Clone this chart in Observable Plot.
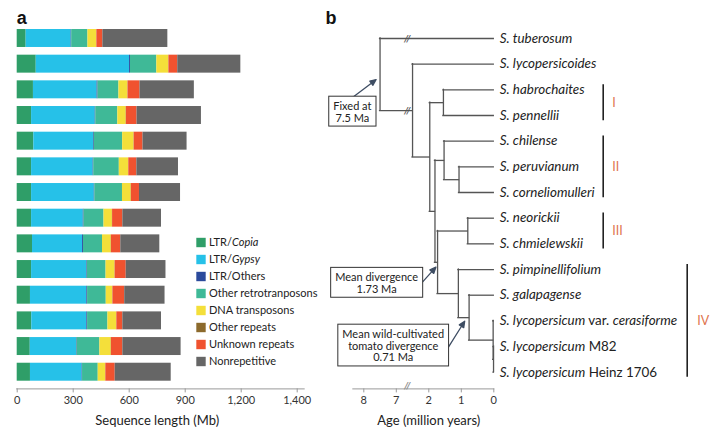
<!DOCTYPE html>
<html><head><meta charset="utf-8">
<script src="https://cdn.jsdelivr.net/npm/d3@7"></script>
<script src="https://cdn.jsdelivr.net/npm/@observablehq/plot@0.6"></script>
<style>
body{margin:0;background:#fff;font-family:Lato,sans-serif}
#wrap{position:relative;width:720px;height:435px;overflow:hidden;background:#fff}
</style></head><body><div id="wrap"></div>
<script>
// ---------- DATA ----------
const tipMarkup = ["*S. tuberosum*","*S. lycopersicoides*","*S. habrochaites*","*S. pennellii*","*S. chilense*","*S. peruvianum*","*S. corneliomulleri*","*S. neorickii*","*S. chmielewskii*","*S. pimpinellifolium*","*S. galapagense*","*S. lycopersicum* var. *cerasiforme*","*S. lycopersicum* M82","*S. lycopersicum* Heinz 1706"];
const legendMarkup = ["LTR/*Copia*","LTR/*Gypsy*","LTR/Others","Other retrotranposons","DNA transposons","Other repeats","Unknown repeats","Nonrepetitive"];
const colors = ["#2f9e68","#26c1e8","#2b4a9c","#3fb997","#f4df3a","#8c6a2c","#f0522f","#666666"];

// sequence length (Mb) per species, in row order
const copia      = [48,102,87,77,89,77,77,77,82,77,71,78,70,71];
const gypsy      = [241,500,341,341,320,330,336,277,268,296,302,295,248,277];
const ltrOthers  = [3,5,5,3,4,3,3,4,5,3,4,4,3,2];
const otherRetro = [87,141,112,118,152,137,148,107,102,100,100,109,122,84];
const dnaTE      = [47,64,48,45,61,50,47,45,47,48,35,47,61,40];
const otherRep   = [1,1,1,1,1,1,1,1,1,1,1,1,1,1];
const unknownRep = [32,47,64,57,47,43,43,55,50,59,63,32,61,50];
const nonRep     = [348,338,291,345,236,223,220,207,209,213,216,207,312,300];

const seqTickValues = [0,300,600,900,1200,1500];
const seqTickLabels = ["0","300","600","900","1,200","1,400"];

// tree: internal nodes, their children and ages (Ma)
const nodeNames = ["root","ingroup","X","I","Z","II","peco","W","III","IV","V","lyc","mh"];
const nodeKids  = [["t0","ingroup"],["t1","X"],["I","Z"],["t2","t3"],["II","W"],["t4","peco"],["t5","t6"],["III","IV"],["t7","t8"],["t9","V"],["t10","lyc"],["t11","mh"],["t12","t13"]];
const nodeAges  = [7.5,4.5,1.97,1.55,1.81,1.53,1.07,1.73,0.80,1.09,0.76,0.02,0.008];

const ageTicks = [0,1,2,7,8];

const cladeNames = ["I","II","III","IV"];
const cladeFirst = [2,4,7,9];
const cladeLast  = [3,6,8,13];

const annotNode = ["root","W","V"];
const annotText = ["Fixed at\n7.5 Ma","Mean divergence\n1.73 Ma","Mean wild-cultivated\ntomato divergence\n0.71 Ma"];

// ---------- DERIVED ----------
const strip = s => s.replace(/\*/g, "");
const species = tipMarkup.map(strip);
const categories = legendMarkup.map(strip);
const series = [copia,gypsy,ltrOthers,otherRetro,dnaTE,otherRep,unknownRep,nonRep];
const barData = species.flatMap((s,i) => categories.map((c,k) => ({i, species:s, category:c, value: series[k][i]})));

// broken age axis: 2..7 Ma compressed
const brk = a => a <= 2 ? a : (a >= 7 ? a - 4 : 2 + (a - 2) / 5);
const isTip = id => /^t\d+$/.test(id);
const idx = id => nodeNames.indexOf(id);
const yOf = id => isTip(id) ? +id.slice(1) : (yOf(nodeKids[idx(id)][0]) + yOf(nodeKids[idx(id)][1])) / 2;
const ageOf = id => isTip(id) ? 0 : nodeAges[idx(id)];

const verticals = nodeNames.map((n,k) => ({node:n, x: brk(nodeAges[k]), y1: yOf(nodeKids[k][0]), y2: yOf(nodeKids[k][1])}));
const horizontals = nodeNames.flatMap((n,k) => nodeKids[k].map(c => ({from:n, to:c, x1: brk(nodeAges[k]), x2: brk(ageOf(c)), y: yOf(c)})));
const tips = tipMarkup.map((m,i) => ({i, label: strip(m)}));
const clades = cladeNames.map((n,k) => ({name:n, first:cladeFirst[k], last:cladeLast[k]}));
const annots = annotNode.map((n,k) => ({node:n, text:annotText[k], x: brk(ageOf(n)), y: yOf(n)}));

// ---------- HELPERS ----------
const SVGNS = "http://www.w3.org/2000/svg";
function applyItalics(svg, markups) {
  const map = new Map(markups.map(m => [strip(m), m]));
  svg.querySelectorAll("text").forEach(t => {
    if (t.querySelector("tspan")) return;
    const m = map.get(t.textContent);
    if (!m || !m.includes("*")) return;
    t.textContent = "";
    m.split("*").forEach((seg,j) => {
      if (!seg) return;
      const ts = document.createElementNS(SVGNS, "tspan");
      if (j % 2 === 1) ts.setAttribute("font-style", "italic");
      ts.textContent = seg;
      t.appendChild(ts);
    });
  });
}
const yScale = () => ({domain: [-0.65, 13.65], reverse: true, axis: null});
const baseStyle = {fontFamily: "Lato, sans-serif", fontSize: "11px", color: "#222", background: "transparent", overflow: "visible"};

// ---------- PANEL A ----------
const barPlot = Plot.plot({
  width: 318, height: 435,
  marginLeft: 16.7, marginRight: 21.3, marginTop: 21.3, marginBottom: 46.6,
  x: {domain: [0, 1500]},
  y: yScale(),
  color: {domain: categories, range: colors},
  style: baseStyle,
  marks: [
    Plot.rectX(barData, {x: "value", y1: d => d.i - 0.35, y2: d => d.i + 0.35, fill: "category"}),
    Plot.frame({anchor: "bottom", insetLeft: -0.5, insetRight: -7, stroke: "#9a9a9a"}),
    Plot.axisX({ticks: seqTickValues, tickFormat: d => seqTickLabels[seqTickValues.indexOf(d)], tickSize: 4, tickPadding: 3, stroke: "#9a9a9a", fill: "#333", fontSize: 11, label: null}),
    Plot.text(["Sequence length (Mb)"], {text: d => d, frameAnchor: "bottom", dy: 31.5, lineAnchor: "middle", fontSize: 13, fill: "#222"}),
    Plot.text(["a"], {text: d => d, frameAnchor: "top-left", dx: -0.5, dy: -3.5, lineAnchor: "middle", textAnchor: "start", fontWeight: "bold", fontSize: 18, fontFamily: "Liberation Sans, Arial, sans-serif", fill: "#111"})
  ]
});

// ---------- LEGEND ----------
const legendPlot = Plot.plot({
  width: 140, height: 150,
  marginLeft: 10.5, marginRight: 0, marginTop: 12, marginBottom: 14.5,
  x: {domain: [0, 1], axis: null},
  y: {type: "point", domain: categories, padding: 0, axis: null},
  color: {domain: categories, range: colors},
  style: baseStyle,
  marks: [
    Plot.dot(categories, {y: d => d, fill: d => d, symbol: "square", r: 5.3, frameAnchor: "left"}),
    Plot.text(categories, {y: d => d, text: d => d, frameAnchor: "left", dx: 8, textAnchor: "start", fontSize: 11, fill: "#222"})
  ]
});

// ---------- PANEL B ----------
const lineColor = "#555";
const arrowColor = "#3e4d63";
const arrowShape = {draw(ctx, l) {
  const h = 6, w = 2.6;
  ctx.moveTo(0, 0); ctx.lineTo(0, -l + h);
  ctx.moveTo(0, -l); ctx.lineTo(-w, -l + h); ctx.lineTo(w, -l + h); ctx.closePath();
}};
const annotStyle = [
  {dx: -27.7, dy: 37.3, len: 29.3, rot: 52.8, tdx: -3.9, tdy: 5},
  {dx: -61, dy: 20.7, len: 22.4, rot: 42.1, tdx: -1.7, tdy: 4.9},
  {dx: -75.9, dy: 28.1, len: 30.7, rot: 32, tdx: -4.4, tdy: 3.5}
];
const annotMarks = annots.flatMap((a,k) => {
  const s = annotStyle[k];
  return [
    Plot.vector([a], {x: "x", y: "y", length: s.len, rotate: s.rot, anchor: "end", shape: arrowShape, stroke: arrowColor, fill: arrowColor, strokeWidth: 1.3, dx: s.tdx, dy: s.tdy}),
    Plot.text([a], {x: "x", y: "y", text: "text", dx: s.dx, dy: s.dy, lineAnchor: "middle", lineHeight: 1.08, fontSize: 11, fill: "#222"})
  ];
});
const breakAge = 5.3;

const treePlot = Plot.plot({
  width: 402, height: 435,
  marginLeft: 45.3, marginRight: 226.7, marginTop: 21.3, marginBottom: 46.6,
  x: {domain: [4, 0]},
  y: yScale(),
  style: baseStyle,
  marks: [
    Plot.ruleX(verticals, {x: "x", y1: "y1", y2: "y2", stroke: lineColor, strokeWidth: 1.3, strokeLinecap: "square"}),
    Plot.ruleY(horizontals, {y: "y", x1: "x1", x2: "x2", stroke: lineColor, strokeWidth: 1.3, strokeLinecap: "square"}),
    Plot.text(horizontals.filter(h => h.from === "root"), {x: () => brk(breakAge), y: "y", text: () => "//", fontSize: 10, fontStyle: "italic", fill: lineColor, fontWeight: "bold"}),
    Plot.text(tips, {x: () => brk(0), y: "i", text: "label", dx: 6, textAnchor: "start", fontSize: 13.4, fill: "#222"}),
    Plot.ruleX(clades.filter(c => c.name !== "IV"), {x: () => brk(0), y1: d => d.first - 0.2, y2: d => d.last + 0.2, dx: 109.4, stroke: "#222", strokeWidth: 1.6}),
    Plot.ruleX(clades.filter(c => c.name === "IV"), {x: () => brk(0), y1: d => d.first - 0.2, y2: d => d.last + 0.2, dx: 193.4, stroke: "#222", strokeWidth: 1.6}),
    Plot.text(clades.filter(c => c.name !== "IV"), {x: () => brk(0), y: d => (d.first + d.last) / 2, text: "name", dx: 118.5, textAnchor: "start", fontSize: 12.5, fill: "#e0744e"}),
    Plot.text(clades.filter(c => c.name === "IV"), {x: () => brk(0), y: d => (d.first + d.last) / 2, text: "name", dx: 203.5, textAnchor: "start", fontSize: 12.5, fill: "#e0744e"}),
    Plot.frame({anchor: "bottom", insetLeft: -11, stroke: "#9a9a9a"}),
    Plot.axisX({ticks: ageTicks.map(brk), tickFormat: d => String(ageTicks[ageTicks.map(brk).indexOf(d)]), tickSize: 4, tickPadding: 3, stroke: "#9a9a9a", fill: "#333", fontSize: 11, label: null}),
    Plot.text([brk(breakAge)], {x: d => d, frameAnchor: "bottom", text: () => "//", fontSize: 10, fontStyle: "italic", fontWeight: "bold", fill: "#888"}),
    Plot.text(["Age (million years)"], {text: d => d, frameAnchor: "bottom", dy: 31.5, lineAnchor: "middle", fontSize: 13, fill: "#222"}),
    ...annotMarks,
    Plot.text(["b"], {text: d => d, frameAnchor: "top-left", dx: -38.3, dy: -3.5, lineAnchor: "middle", textAnchor: "start", fontWeight: "bold", fontSize: 18, fontFamily: "Liberation Sans, Arial, sans-serif", fill: "#111"})
  ]
});

// ---------- MOUNT ----------
const wrap = document.getElementById("wrap");
function place(el, left, top) {
  el.style.position = "absolute"; el.style.left = left + "px"; el.style.top = top + "px";
  el.style.maxWidth = "none";
  wrap.appendChild(el);
}
place(barPlot, 0, 0);
place(treePlot, 318, 0);
place(legendPlot, 190, 228);
applyItalics(treePlot, tipMarkup);
applyItalics(legendPlot, legendMarkup);

// boxes around annotation texts
treePlot.querySelectorAll("text").forEach(t => {
  if (!/Ma$/.test(t.textContent)) return;
  const b = t.getBBox();
  const px = 4.5, py = 2.5;
  const r = document.createElementNS(SVGNS, "rect");
  r.setAttribute("x", b.x - px); r.setAttribute("y", b.y - py);
  r.setAttribute("width", b.width + 2 * px); r.setAttribute("height", b.height + 2 * py);
  r.setAttribute("fill", "#fff"); r.setAttribute("stroke", "#333"); r.setAttribute("stroke-width", 1);
  const tr = t.getAttribute("transform"); if (tr) r.setAttribute("transform", tr);
  t.parentNode.insertBefore(r, t);
});
</script></body></html>
